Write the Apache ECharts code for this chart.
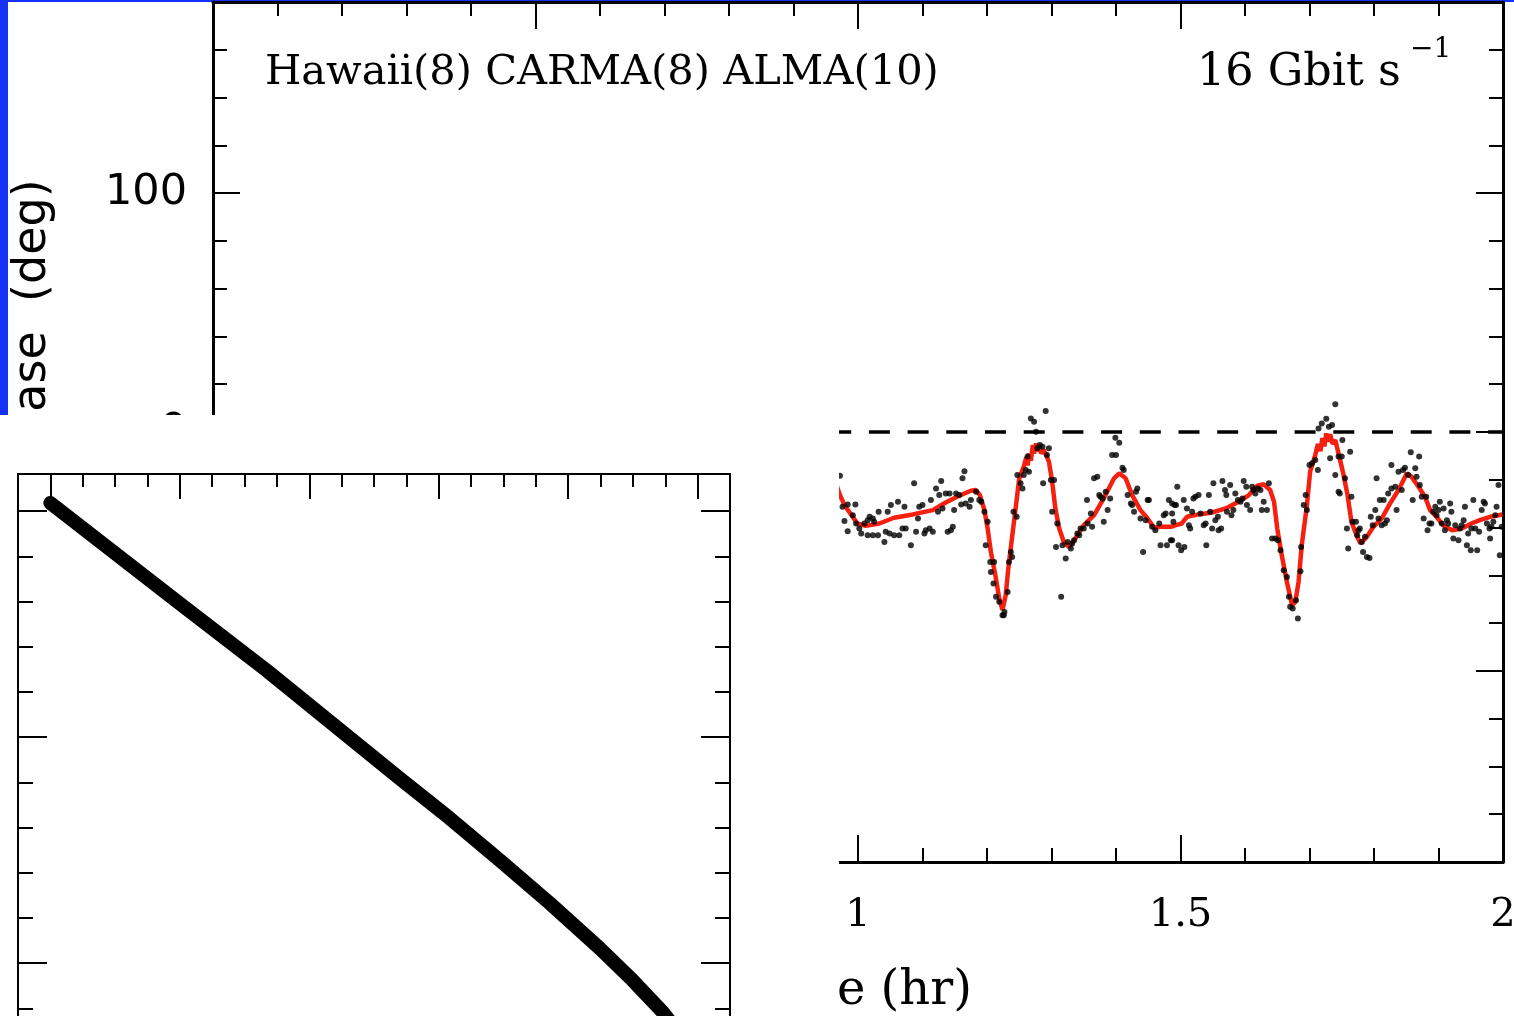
<!DOCTYPE html>
<html>
<head>
<meta charset="utf-8">
<script src="https://cdn.jsdelivr.net/npm/echarts@6/dist/echarts.min.js"></script>
<style>
  html, body { margin: 0; padding: 0; background: #1432f5; }
  #chart { width: 1514px; height: 1016px; }
</style>
</head>
<body>
<div id="chart"></div>
<script>
// Measured phase samples: [time (hr), phase (deg)]
const phaseDots = [
  [0.972,-18.3],[0.976,-31.3],[0.984,-30.3],[0.996,-30.3],[0.979,-37.3],[0.984,-41.5],[0.992,-34.8],[0.997,-38.3],
  [1.002,-40.4],[1.005,-42.5],[1.010,-38.3],[1.015,-36.9],[1.018,-35.5],[1.023,-36.2],[1.025,-37.6],[1.015,-43.2],
  [1.023,-43.2],[1.031,-43.2],[1.032,-33.4],[1.041,-46.0],[1.043,-41.8],[1.046,-33.4],[1.049,-42.5],[1.051,-30.6],
  [1.056,-43.2],[1.062,-29.2],[1.064,-43.2],[1.069,-40.4],[1.072,-31.3],[1.074,-40.4],[1.082,-47.4],[1.087,-21.5],
  [1.090,-41.8],[1.093,-36.2],[1.095,-31.3],[1.100,-30.6],[1.103,-42.5],[1.105,-41.1],[1.111,-40.4],[1.113,-28.5],
  [1.116,-41.8],[1.121,-23.6],[1.124,-33.4],[1.126,-26.4],[1.129,-20.5],[1.131,-32.0],[1.136,-25.7],[1.139,-41.8],
  [1.142,-25.7],[1.144,-41.1],[1.147,-39.7],[1.149,-32.7],[1.152,-25.7],[1.157,-26.4],[1.160,-30.3],[1.162,-19.4],
  [1.165,-16.4],[1.167,-29.9],[1.173,-31.3],[1.175,-28.5],[1.183,-25.0],[1.188,-28.5],[1.191,-29.2],[1.196,-33.4],
  [1.201,-37.6],[1.198,-47.4],[1.205,-54.4],[1.211,-54.4],[1.206,-58.6],[1.210,-63.4],[1.214,-69.0],[1.219,-71.1],
  [1.224,-76.7],[1.227,-75.3],
  [1.226,-76.7],[1.232,-67.0],[1.234,-54.4],[1.237,-50.2],[1.239,-52.3],[1.241,-33.4],[1.246,-35.5],[1.247,-18.0],
  [1.252,-21.5],[1.255,-23.6],[1.257,-18.0],[1.260,-15.9],[1.265,-16.6],[1.263,-10.3],[1.268,5.7],[1.273,4.3],
  [1.276,0.1],[1.278,-6.8],[1.282,-5.4],[1.286,-6.2],[1.287,-21.5],[1.291,8.8],[1.293,-9.6],[1.296,-6.8],
  [1.299,-20.1],[1.304,-20.1],[1.301,-33.4],[1.309,-38.3],[1.307,-48.1],[1.317,-47.4],[1.322,-53.0],[1.325,-46.0],
  [1.330,-48.8],[1.332,-46.7],[1.315,-69.0],[1.335,-45.3],[1.340,-42.5],[1.343,-43.2],[1.345,-40.4],[1.350,-40.4],
  [1.355,-28.5],[1.356,-38.3],[1.361,-34.1],[1.363,-39.7],[1.366,-19.4],[1.371,-18.7],[1.374,-26.4],[1.376,-27.1],
  [1.379,-27.8],[1.381,-37.6],[1.384,-25.0],[1.387,-32.7],[1.391,-27.8],[1.394,-9.6],[1.400,-9.6],[1.399,-2.4],
  [1.405,-4.5],[1.410,-15.0],[1.412,-15.9],[1.418,-26.4],[1.423,-29.9],[1.425,-30.6],[1.428,-33.4],[1.431,-25.0],
  [1.433,-23.6],[1.438,-36.2],[1.442,-50.2],[1.446,-36.9],[1.449,-28.5],[1.451,-28.5],[1.456,-39.7],[1.461,-41.1],
  [1.467,-38.3],[1.469,-47.4],[1.474,-34.8],[1.477,-34.1],[1.479,-47.4],[1.482,-28.5],[1.485,-45.3],[1.487,-29.9],
  [1.491,-30.6],
  [1.487,-34.1],[1.489,-37.6],[1.487,-45.3],[1.493,-30.6],[1.495,-22.9],[1.497,-47.4],[1.501,-49.5],[1.505,-28.5],
  [1.506,-48.1],[1.510,-32.0],[1.513,-39.0],[1.515,-40.4],[1.518,-33.4],[1.520,-27.8],[1.523,-27.1],[1.528,-26.4],
  [1.531,-34.1],[1.536,-39.0],[1.539,-38.3],[1.540,-47.4],[1.544,-26.4],[1.546,-33.4],[1.549,-40.4],[1.551,-21.5],
  [1.554,-36.9],[1.558,-35.5],[1.559,-41.1],[1.563,-40.4],[1.565,-20.5],[1.569,-24.3],[1.571,-26.4],[1.572,-33.4],
  [1.577,-22.2],[1.579,-34.8],[1.582,-32.7],[1.585,-25.7],[1.589,-28.5],[1.593,-29.2],[1.596,-27.8],[1.598,-20.5],
  [1.602,-22.9],[1.603,-30.6],[1.608,-32.7],[1.611,-22.9],[1.613,-24.3],[1.616,-25.7],[1.620,-23.6],[1.624,-24.3],
  [1.626,-32.7],[1.629,-29.2],[1.634,-32.7],[1.637,-21.5],[1.642,-44.6],[1.647,-44.6],[1.651,-45.3],[1.655,-49.5],
  [1.660,-57.9],[1.665,-60.7],[1.668,-69.0],[1.670,-73.2],[1.674,-73.9],[1.679,-70.4],[1.682,-78.1],[1.686,-58.3],
  [1.687,-48.1],[1.691,-30.6],[1.694,-26.4],[1.696,-32.7],[1.700,-13.8],[1.704,-13.1],[1.709,-11.7],[1.713,-15.9],
  [1.714,1.5],[1.719,3.6],[1.726,5.5],[1.730,2.2],[1.732,-11.0],[1.735,2.9],[1.740,11.6],[1.740,-18.0],
  [1.745,-10.3],[1.745,-25.0],
  [1.751,-3.4],[1.750,-10.3],[1.747,-25.7],[1.755,-19.4],[1.763,-8.3],[1.765,-27.1],[1.767,-37.6],[1.758,-40.4],
  [1.760,-48.8],[1.772,-37.6],[1.776,-41.1],[1.774,-43.2],[1.778,-40.4],[1.781,-46.0],[1.783,-50.2],[1.786,-43.9],
  [1.789,-52.3],[1.793,-52.7],[1.795,-35.5],[1.798,-39.0],[1.802,-32.7],[1.804,-19.4],[1.807,-36.2],[1.809,-28.5],
  [1.812,-39.0],[1.815,-28.5],[1.817,-38.3],[1.820,-36.9],[1.822,-25.7],[1.827,-13.8],[1.827,-23.6],[1.833,-22.9],
  [1.835,-32.7],[1.838,-16.6],[1.843,-24.3],[1.845,-15.9],[1.848,-15.0],[1.853,-18.0],[1.857,-8.5],[1.860,-28.5],
  [1.864,-15.2],[1.866,-18.7],[1.870,-10.3],[1.871,-22.2],[1.874,-27.1],[1.877,-36.2],[1.881,-27.1],[1.883,-41.1],
  [1.886,-38.3],[1.889,-38.3],[1.892,-33.4],[1.895,-31.3],[1.897,-34.8],[1.900,-32.7],[1.902,-29.2],[1.905,-38.3],
  [1.908,-32.0],[1.910,-41.1],[1.913,-36.9],[1.915,-38.3],[1.918,-29.9],[1.920,-33.4],[1.923,-44.6],[1.926,-39.0],
  [1.931,-45.3],[1.933,-40.4],[1.936,-39.0],[1.939,-36.9],[1.941,-31.3],[1.944,-47.4],[1.946,-42.5],[1.950,-49.5],
  [1.951,-40.4],[1.954,-28.5],[1.957,-40.4],[1.960,-49.5],[1.963,-41.8],[1.967,-32.7],[1.970,-29.2],[1.972,-29.9],
  [1.975,-38.3],[1.979,-40.4],[1.980,-44.6],[1.982,-39.7],[1.985,-37.6],[1.988,-34.8],[1.990,-31.3],[1.993,-22.2],
  [1.995,-51.6],[1.998,-39.7]
];

// Fitted phase track: [time (hr), phase (deg)]
const phaseModel = [
  [0.966,-21.5],[0.971,-25.7],[0.979,-30.6],[0.987,-33.7],[0.999,-38.3],[1.012,-39.3],[1.033,-38.3],[1.056,-35.9],
  [1.085,-34.5],[1.116,-32.7],[1.136,-29.5],[1.157,-26.7],[1.175,-24.6],[1.183,-24.3],[1.189,-26.4],[1.196,-32.7],
  [1.201,-40.4],[1.206,-50.2],[1.213,-60.0],[1.219,-69.7],[1.224,-74.5],[1.227,-74.0],[1.229,-68.3],[1.233,-57.2],
  [1.238,-46.0],[1.245,-30.6],[1.250,-19.4],[1.257,-14.5],[1.261,-10.5],[1.263,-14.0],[1.265,-9.0],[1.268,-12.0],
  [1.271,-5.5],[1.273,-9.0],[1.276,-4.8],[1.279,-8.0],[1.281,-5.4],[1.284,-9.0],[1.288,-7.5],[1.296,-12.4],
  [1.301,-20.8],[1.306,-32.0],[1.312,-40.4],[1.319,-46.0],[1.327,-48.1],[1.337,-44.6],[1.350,-39.0],[1.366,-34.8],
  [1.381,-27.8],[1.397,-19.4],[1.405,-17.3],[1.415,-19.4],[1.425,-26.4],[1.438,-32.7],[1.449,-36.2],[1.459,-40.1],
  [1.469,-39.7],[1.485,-39.7],[1.493,-39.0],[1.502,-38.3],[1.510,-35.5],[1.528,-34.5],[1.549,-33.7],[1.570,-32.0],
  [1.590,-29.2],[1.606,-26.4],[1.619,-22.5],[1.629,-21.9],[1.639,-24.3],[1.645,-29.2],[1.650,-40.4],[1.657,-51.6],
  [1.665,-62.8],[1.673,-72.5],[1.678,-71.1],[1.683,-62.8],[1.688,-47.4],[1.696,-30.6],[1.701,-16.6],[1.709,-9.6],
  [1.713,-5.0],[1.717,-8.0],[1.720,-2.5],[1.723,-6.0],[1.726,-0.6],[1.729,-4.0],[1.732,-1.0],[1.736,-5.0],
  [1.740,-3.4],[1.745,-9.0],[1.748,-12.4],[1.752,-17.0],[1.759,-26.4],[1.765,-37.6],[1.773,-43.2],[1.779,-46.7],
  [1.789,-43.9],[1.799,-39.7],[1.812,-36.2],[1.825,-29.9],[1.838,-24.3],[1.851,-17.3],[1.858,-18.7],[1.869,-22.9],
  [1.879,-27.1],[1.887,-32.7],[1.897,-35.5],[1.907,-39.0],[1.921,-41.1],[1.936,-40.4],[1.951,-38.3],[1.964,-36.9],
  [1.980,-35.5],[1.999,-34.5]
];

// Zero-phase reference
const zeroLine = [[0, 0], [2, 0]];

// Major tick positions
const phaseMajorTicks = [-100, 0, 100];
const insetMajorX = [0, 1, 2, 3, 4, 5];
const insetMajorY = [0, 5, 10];

// Inset curve: [x, y]
const insetCurve = [
  [0, 10.18], [0.997, 7.96], [1.669, 6.48], [2.697, 4.09], [3.083, 3.21],
  [3.470, 2.28], [3.856, 1.33], [4.243, 0.33], [4.498, -0.38], [4.730, -1.08], [4.90, -1.70]
];

const BLACK = '#000';
const serif = '"DejaVu Serif", serif';
const sans = '"DejaVu Sans", sans-serif';

function merge(base, extra) {
  const out = Object.assign({}, base);
  for (const k in extra) {
    if (extra[k] && typeof extra[k] === 'object' && !Array.isArray(extra[k]) &&
        base[k] && typeof base[k] === 'object' && !Array.isArray(base[k])) {
      out[k] = merge(base[k], extra[k]);
    } else {
      out[k] = extra[k];
    }
  }
  return out;
}

// Frame edge carrying the short (minor) ticks
function frameAxis(width, tickLen, extra) {
  return merge({
    type: 'value',
    splitLine: { show: false },
    axisLine: { show: true, onZero: false, lineStyle: { color: BLACK, width: width } },
    axisTick: { show: true, inside: true, length: tickLen, lineStyle: { color: BLACK, width: 2 } },
    axisLabel: { show: false },
    silent: true
  }, extra);
}

// Invisible companion axis carrying the long (major) ticks
function majorAxis(tickLen, values, extra) {
  return merge({
    type: 'value',
    splitLine: { show: false },
    axisLine: { show: false, onZero: false },
    axisTick: { show: true, inside: true, length: tickLen, customValues: values, lineStyle: { color: BLACK, width: 2 } },
    axisLabel: { show: false },
    silent: true
  }, extra);
}

const inset = { zlevel: 1, z: 10 };

const option = {
  backgroundColor: '#1432f5',
  animation: false,
  grid: [
    { left: 213, width: 1290, top: 2, height: 860, containLabel: false, outerBoundsMode: 'none' },
    { left: 18, width: 712, top: 474, height: 670, containLabel: false, outerBoundsMode: 'none' }
  ],
  xAxis: [
    frameAxis(3, 27, {
      gridIndex: 0, position: 'bottom', min: 0, max: 2, interval: 0.5,
      minorTick: { show: true, splitNumber: 5, length: 14, lineStyle: { color: BLACK, width: 2 } },
      axisLabel: { show: true, color: BLACK, fontFamily: serif, fontSize: 40, margin: 34 },
      name: 'Time (hr)', nameLocation: 'middle', nameGap: 106,
      nameTextStyle: { color: BLACK, fontFamily: serif, fontSize: 48 }
    }),
    frameAxis(3, 27, {
      gridIndex: 0, position: 'top', min: 0, max: 2, interval: 0.5,
      minorTick: { show: true, splitNumber: 5, length: 14, lineStyle: { color: BLACK, width: 2 } }
    }),
    frameAxis(2, 13, Object.assign({ gridIndex: 1, position: 'top', min: -0.25, max: 5.25, interval: 0.25 }, inset)),
    majorAxis(25, insetMajorX, Object.assign({ gridIndex: 1, position: 'top', min: -0.25, max: 5.25 }, inset))
  ],
  yAxis: [
    frameAxis(3, 14, { gridIndex: 0, position: 'left', min: -180, max: 180, interval: 20 }),
    majorAxis(27, phaseMajorTicks, {
      gridIndex: 0, position: 'left', min: -180, max: 180,
      axisLabel: { show: true, customValues: phaseMajorTicks, color: BLACK, fontFamily: sans, fontSize: 43, margin: 26 }
    }),
    frameAxis(3, 14, { gridIndex: 0, position: 'right', min: -180, max: 180, interval: 20 }),
    majorAxis(27, phaseMajorTicks, { gridIndex: 0, position: 'right', min: -180, max: 180 }),
    frameAxis(2, 15, Object.assign({ gridIndex: 1, position: 'left', min: -4, max: 10.82, interval: 1 }, inset)),
    majorAxis(29, insetMajorY, Object.assign({ gridIndex: 1, position: 'left', min: -4, max: 10.82 }, inset)),
    frameAxis(2, 15, Object.assign({ gridIndex: 1, position: 'right', min: -4, max: 10.82, interval: 1 }, inset)),
    majorAxis(29, insetMajorY, Object.assign({ gridIndex: 1, position: 'right', min: -4, max: 10.82 }, inset))
  ],
  graphic: [
    { type: 'rect', z: -10, zlevel: 0, silent: true,
      shape: { x: 8, y: 2, width: 1506, height: 1014 }, style: { fill: '#fff' } },
    { type: 'text', x: 265, y: 73, silent: true,
      style: { text: 'Hawaii(8) CARMA(8) ALMA(10)', fill: BLACK, font: '41.6px ' + serif,
               textAlign: 'left', textVerticalAlign: 'middle' } },
    { type: 'text', x: 1197, y: 73, silent: true,
      style: { text: '16 Gbit s', fill: BLACK, font: '44.5px ' + serif,
               textAlign: 'left', textVerticalAlign: 'middle' } },
    { type: 'text', x: 1410, y: 50, silent: true,
      style: { text: '\u22121', fill: BLACK, font: '28px ' + serif,
               textAlign: 'left', textVerticalAlign: 'middle' } },
    { type: 'text', x: 33, y: 324, rotation: Math.PI / 2, silent: true,
      style: { text: 'Phase  (deg)', fill: BLACK, font: '46px ' + sans,
               textAlign: 'center', textVerticalAlign: 'middle' } },
    { type: 'rect', zlevel: 1, z: 0, silent: true,
      shape: { x: 0, y: 415, width: 839, height: 601 }, style: { fill: '#fff' } }
  ],
  series: [
    {
      type: 'line', name: 'zero', xAxisIndex: 0, yAxisIndex: 0, data: zeroLine,
      showSymbol: false, silent: true,
      lineStyle: { color: BLACK, width: 3.5, type: [21, 17.7], dashOffset: 2 }, z: 2
    },
    {
      type: 'line', name: 'model', xAxisIndex: 0, yAxisIndex: 0, data: phaseModel,
      showSymbol: false, silent: true,
      lineStyle: { color: '#f5200f', width: 4.5 }, z: 3
    },
    {
      type: 'scatter', name: 'phase', xAxisIndex: 0, yAxisIndex: 0, data: phaseDots,
      symbol: 'circle', symbolSize: 6, silent: true,
      itemStyle: { color: '#000' }, z: 4
    },
    {
      type: 'line', name: 'inset', xAxisIndex: 2, yAxisIndex: 4, data: insetCurve,
      showSymbol: false, silent: true, smooth: false,
      lineStyle: { color: '#000', width: 14, cap: 'round', join: 'round' },
      zlevel: 1, z: 11
    }
  ]
};

const chart = echarts.init(document.getElementById('chart'), null, { renderer: 'canvas' });
chart.setOption(option);
</script>
</body>
</html>
